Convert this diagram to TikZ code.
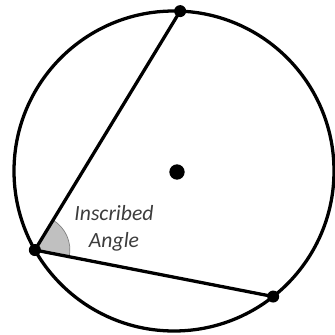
\documentclass[tikz,border=0pt]{standalone}
\usepackage{fontspec}
\setsansfont{Carlito}
\usepackage{tikz}
\usetikzlibrary{calc,angles}
\definecolor{WedgeGray}{RGB}{192,192,192}
\definecolor{TextGray}{RGB}{60,60,60}
\tikzset{
  rim/.style={draw=black,line width=2.8pt},
  chord/.style={draw=black,line width=2.8pt},
  dot/.style={circle,fill=black,inner sep=0pt,minimum size=0.36cm},
  bigdot/.style={circle,fill=black,inner sep=0pt,minimum size=0.46cm},
  lab/.style={font=\sffamily\itshape\fontsize{18.5}{23}\selectfont,text=TextGray,align=center},
}

\begin{document}
\begin{tikzpicture}[x=0.03cm,y=0.03cm]
\useasboundingbox (0,0) rectangle (334,-335);
\coordinate (c) at (174,-171);
\coordinate (t) at ($(c)+(87.8:160)$);
\coordinate (l) at ($(c)+(209.6:160)$);
\coordinate (b) at ($(c)+(308.3:160)$);
\draw[rim] (c) circle (160);
\pic[draw=gray,fill=WedgeGray,line width=0.6pt,angle radius=1.05cm] {angle=b--l--t};
\draw[chord] (l) -- (t);
\draw[chord] (l) -- (b);
\node[bigdot] (o) at (177,-172) {};
\node[dot] (pt) at (t) {};
\node[dot] (pl) at (l) {};
\node[dot] (pb) at (b) {};
\node[lab] (name) at (114,-228) {Inscribed\\Angle};
\end{tikzpicture}
\end{document}
